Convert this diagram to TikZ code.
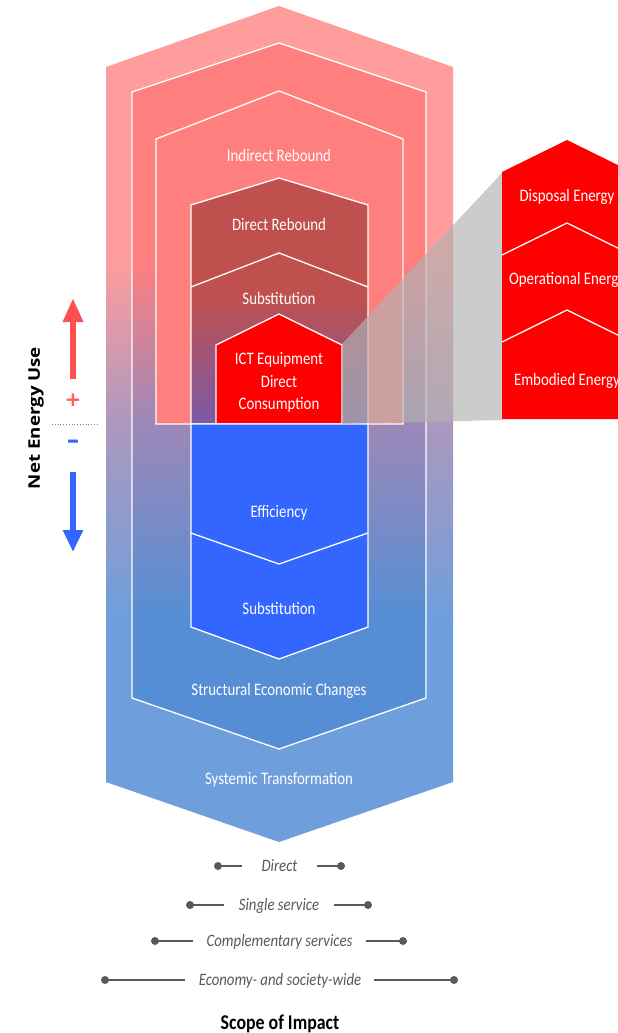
\documentclass[tikz,border=0pt]{standalone}
\usepackage{fontspec}
\setmainfont{Carlito}
\newfontfamily\calfont[FakeStretch=0.85]{Carlito}
\newfontfamily\netfont[FakeStretch=1.17]{Open Sans}
\newfontfamily\symfont{DejaVu Sans}
\usetikzlibrary{arrows.meta}
\definecolor{outerTop}{HTML}{FF9C9C}
\definecolor{outerMid}{HTML}{AC98BE}
\definecolor{outerBot}{HTML}{6E9FDC}
\definecolor{midTop}{HTML}{FF7F7F}
\definecolor{midMid}{HTML}{9C88B8}
\definecolor{midBot}{HTML}{558ED5}
\definecolor{indirect}{HTML}{FF7F7F}
\definecolor{brick}{HTML}{C0504D}
\definecolor{brickPurple}{HTML}{7A5AA6}
\definecolor{ictred}{HTML}{FF0000}
\definecolor{effblue}{HTML}{3366FF}
\definecolor{zoomgrey}{HTML}{B2B2B2}
\definecolor{scopegrey}{HTML}{595959}
\definecolor{uparrow}{HTML}{FF5050}
\definecolor{plusred}{HTML}{FF6060}
\begin{document}
\begin{tikzpicture}[x=1pt,y=-1pt,
  whiteline/.style={draw=white, line width=1.3pt, line join=miter},
  lbl/.style={text=white, font=\calfont\fontsize{17.5}{22.5}\selectfont, inner sep=0pt, anchor=base},
  scopetxt/.style={text=scopegrey, font=\calfont\itshape\fontsize{17.4}{20}\selectfont, inner sep=0pt, anchor=base},
  scopeline/.style={draw=scopegrey, line width=2.8pt},
  scopedot/.style={fill=scopegrey}
]
\path[use as bounding box, fill=white] (0,0) rectangle (618,1033);
\clip (0,0) rectangle (618,1033);

% outer hexagon
\begin{scope}
\clip (279,6) -- (453,67) -- (453,782) -- (279,842) -- (106,782) -- (106,67) -- cycle;
\fill[outerTop] (100,0) rectangle (460,261);
\shade[top color=outerTop, bottom color=outerMid] (100,260) rectangle (460,424);
\shade[top color=outerMid, bottom color=outerBot] (100,424) rectangle (460,620);
\fill[outerBot] (100,619) rectangle (460,850);
\end{scope}

% second hexagon
\begin{scope}
\clip (279,43) -- (426,92) -- (426,698) -- (279,749) -- (132,698) -- (132,92) -- cycle;
\fill[midTop] (120,30) rectangle (440,261);
\shade[top color=midTop, bottom color=midMid] (120,260) rectangle (440,424);
\shade[top color=midMid, bottom color=midBot] (120,424) rectangle (440,620);
\fill[midBot] (120,619) rectangle (440,760);
\end{scope}
\path[whiteline] (279,43) -- (426,92) -- (426,698) -- (279,749) -- (132,698) -- (132,92) -- cycle;

% indirect rebound
\path[fill=indirect, whiteline] (279,91) -- (403,139) -- (403,424) -- (156,424) -- (156,139) -- cycle;

% direct rebound / substitution
\begin{scope}
\clip (279,178) -- (368,205) -- (368,424) -- (191,424) -- (191,205) -- cycle;
\fill[brick] (180,170) rectangle (380,296);
\shade[top color=brick, bottom color=brickPurple] (180,295) rectangle (380,424);
\end{scope}
\path[whiteline] (279,178) -- (368,205) -- (368,424) -- (191,424) -- (191,205) -- cycle;
\path[whiteline] (191,287) -- (279,253) -- (368,287);

% ICT box
\path[fill=ictred, whiteline] (279,314) -- (342,345) -- (342,424) -- (216,424) -- (216,345) -- cycle;

% blue box
\path[fill=effblue, whiteline] (191,424) -- (368,424) -- (368,627) -- (279,659) -- (191,627) -- cycle;
\path[whiteline] (191,533) -- (279,564) -- (368,533);

% zoom wedge
\fill[zoomgrey, fill opacity=0.66] (342,344) -- (502,173) -- (502,420) -- (342,424) -- cycle;

% right panel
\fill[ictred] (502,172) -- (567,140) -- (632,172) -- (632,419) -- (502,419) -- cycle;
\path[whiteline] (502,255) -- (567,223) -- (632,255);
\path[whiteline] (502,342) -- (567,310) -- (632,342);

% labels
\node[lbl] (indirect) at (279,161) {Indirect Rebound};
\node[lbl] (direct) at (279,230) {Direct Rebound};
\node[lbl] (subtop) at (279,304) {Substitution};
\node[lbl, anchor=center, align=center] (ict) at (279,382.5) {ICT Equipment\\Direct\\Consumption};
\node[lbl] (eff) at (279,517) {Efficiency};
\node[lbl] (subbot) at (279,614) {Substitution};
\node[lbl] (struct) at (279,695) {Structural Economic Changes};
\node[lbl] (systemic) at (279,784) {Systemic Transformation};
\node[lbl] (disposal) at (567,201) {Disposal Energy};
\node[lbl] (operational) at (567,284) {Operational Energy};
\node[lbl] (embodied) at (567,385) {Embodied Energy};

% net energy use
\node[rotate=90, font=\netfont\bfseries\fontsize{16}{16}\selectfont, inner sep=0pt] (net) at (36,418) {Net Energy Use};
\coordinate (upbot) at (73,379);
\coordinate (uptop) at (73,298);
\draw[uparrow, line width=6pt, -{Triangle[width=19pt,length=24pt]}] (upbot) -- (uptop);
\coordinate (dntop) at (73,472);
\coordinate (dnbot) at (73,552);
\draw[effblue, line width=6pt, -{Triangle[width=19pt,length=22pt]}] (dntop) -- (dnbot);
\node[text=plusred, font=\symfont\bfseries\fontsize{20}{20}\selectfont, inner sep=0pt] (plus) at (73,400) {+};
\node[text=effblue, font=\symfont\bfseries\fontsize{25}{25}\selectfont, inner sep=0pt] (minus) at (73,444) {–};
\coordinate (dotl) at (52,424);
\coordinate (dotr) at (97,424);
\draw[gray, dotted, line width=0.8pt] (dotl) -- (dotr);

% scope of impact rows
\node[scopetxt] (r1) at (279.5,871.5) {Direct};
\node[scopetxt] (r2) at (279,910.5) {Single service};
\node[scopetxt] (r3) at (279.5,946.5) {Complementary services};
\node[scopetxt] (r4) at (280,985.5) {Economy- and society-wide};
\coordinate (r1l) at (218,866); \coordinate (r1r) at (341,866);
\coordinate (r2l) at (190,905); \coordinate (r2r) at (368,905);
\coordinate (r3l) at (155,941); \coordinate (r3r) at (403,941);
\coordinate (r4l) at (105,980); \coordinate (r4r) at (454,980);
\draw[scopeline] (r1l) -- ([xshift=-19pt]r1.west |- r1l);
\draw[scopeline] (r1r) -- ([xshift=19pt]r1.east |- r1r);
\draw[scopeline] (r2l) -- ([xshift=-15pt]r2.west |- r2l);
\draw[scopeline] (r2r) -- ([xshift=15pt]r2.east |- r2r);
\draw[scopeline] (r3l) -- ([xshift=-13pt]r3.west |- r3l);
\draw[scopeline] (r3r) -- ([xshift=13pt]r3.east |- r3r);
\draw[scopeline] (r4l) -- ([xshift=-14pt]r4.west |- r4l);
\draw[scopeline] (r4r) -- ([xshift=13pt]r4.east |- r4r);
\foreach \c in {r1l,r1r,r2l,r2r,r3l,r3r,r4l,r4r} \fill[scopedot] (\c) circle (4);

\node[font=\calfont\bfseries\fontsize{21}{21}\selectfont, inner sep=0pt, anchor=base] (scope) at (280,1029) {Scope of Impact};
\end{tikzpicture}
\end{document}
